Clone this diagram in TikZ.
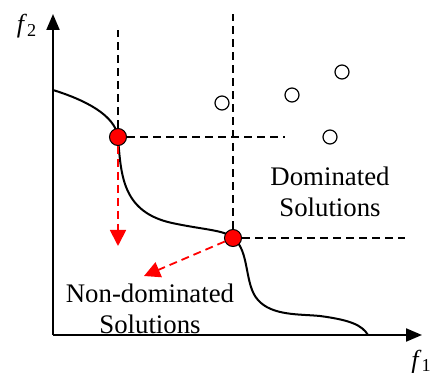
\documentclass[tikz,border=0pt]{standalone}
\usepackage{fontspec}
\setmainfont{Liberation Serif}
\usepackage{tikz}
\usetikzlibrary{arrows.meta,positioning}

\tikzset{
  axis/.style={line width=1pt,-{Triangle[length=8pt,width=6.5pt]}},
  guide/.style={line width=0.75pt,dash pattern=on 4pt off 2.5pt},
  move/.style={red,line width=0.9pt,dash pattern=on 4pt off 2.5pt,-{Triangle[length=8pt,width=8pt]}},
  front/.style={line width=1pt},
  paretopt/.style={circle,draw=black,line width=0.5pt,fill=red,inner sep=0pt,minimum size=8.5pt},
  opendot/.style={circle,draw=black,line width=0.6pt,fill=white,inner sep=0pt,minimum size=7pt},
  solnlabel/.style={align=center,font=\fontsize{13.4}{15.5}\selectfont,inner sep=0pt}
}

\begin{document}
\begin{tikzpicture}[x=0.5pt,y=-0.5pt]
\useasboundingbox (0,0) rectangle (433,373);
\coordinate (O) at (53,335);
\coordinate (Ytop) at (53,14);
\coordinate (Xend) at (422,335);
\draw[axis] (O)--(Ytop);
\draw[axis] (O)--(Xend);
\node[font=\fontsize{13}{15}\selectfont,anchor=base,inner sep=0pt] (f2) at (27,33) {\textit{f}\textsubscript{2}};
\node[font=\fontsize{13}{15}\selectfont,anchor=base east,inner sep=0pt] (f1) at (432,368) {\textit{f}\textsubscript{1}};
\coordinate (c1) at (118,137);
\coordinate (c2) at (233,238);
\draw[front] (53,90) .. controls (85,100) and (115,115) .. (c1)
  .. controls (121,175) and (122,212) .. (172,223)
  .. controls (205,230) and (225,230) .. (c2)
  .. controls (250,250) and (244,285) .. (258,300)
  .. controls (272,316) and (300,314) .. (320,316)
  .. controls (350,320) and (362,325) .. (368,335);
\node[paretopt] (P1) at (c1) {};
\node[paretopt] (P2) at (c2) {};
\coordinate (P1up) at (118,30);
\coordinate (P1right) at (285,137);
\coordinate (P2up) at (233,14);
\coordinate (P2right) at (405,238);
\draw[guide] (P1)--(P1up);
\draw[guide] (P1)--(P1right);
\draw[guide] (P2)--(P2up);
\draw[guide] (P2)--(P2right);
\coordinate (P1to) at (118,246);
\coordinate (P2to) at (144,276);
\draw[move] (P1)--(P1to);
\draw[move] (P2)--(P2to);
\node[opendot] (D1) at (222,103) {};
\node[opendot] (D2) at (292,95) {};
\node[opendot] (D3) at (342,72) {};
\node[opendot] (D4) at (330,137) {};
\node[solnlabel] (dom) at (330,192) {Dominated\\Solutions};
\node[solnlabel] (nondom) at (150,309) {Non-dominated\\Solutions};
\end{tikzpicture}
\end{document}
